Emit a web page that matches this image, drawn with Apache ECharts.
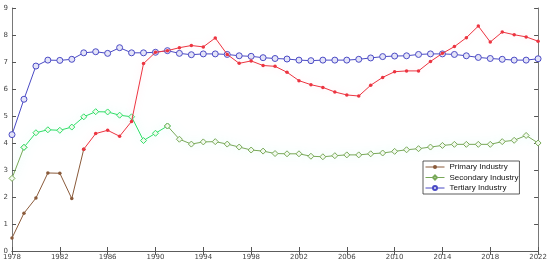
<!DOCTYPE html>
<html>
<head>
<meta charset="utf-8">
<script src="https://cdn.jsdelivr.net/npm/echarts@6/dist/echarts.min.js"></script>
<style>
  html, body { margin: 0; padding: 0; background: #fff; }
  #chart { width: 550px; height: 266px; }
</style>
</head>
<body>
<div id="chart"></div>
<script>
const years = [1978, 1979, 1980, 1981, 1982, 1983, 1984, 1985, 1986, 1987, 1988, 1989,
  1990, 1991, 1992, 1993, 1994, 1995, 1996, 1997, 1998, 1999, 2000, 2001, 2002, 2003,
  2004, 2005, 2006, 2007, 2008, 2009, 2010, 2011, 2012, 2013, 2014, 2015, 2016, 2017,
  2018, 2019, 2020, 2021, 2022]

const primary = [0.48, 1.40, 1.96, 2.89, 2.88, 1.94, 3.77, 4.35, 4.47, 4.25, 4.80, 6.94,
  7.36, 7.42, 7.53, 7.61, 7.56, 7.89, 7.28, 6.95, 7.04, 6.87, 6.84, 6.62, 6.31, 6.16,
  6.06, 5.89, 5.78, 5.74, 6.14, 6.43, 6.64, 6.67, 6.67, 7.02, 7.32, 7.57, 7.90, 8.33,
  7.74, 8.11, 8.01, 7.93, 7.77]

const secondary = [2.69, 3.84, 4.38, 4.49, 4.47, 4.59, 4.97, 5.16, 5.15, 5.03, 4.97, 4.09,
  4.36, 4.63, 4.14, 3.96, 4.04, 4.05, 3.96, 3.85, 3.74, 3.70, 3.61, 3.60, 3.60, 3.51,
  3.49, 3.53, 3.56, 3.56, 3.60, 3.63, 3.69, 3.75, 3.79, 3.85, 3.91, 3.95, 3.95, 3.95,
  3.95, 4.05, 4.10, 4.28, 4.00]

const tertiary = [4.31, 5.62, 6.85, 7.07, 7.06, 7.10, 7.34, 7.38, 7.32, 7.53, 7.34, 7.34,
  7.36, 7.42, 7.32, 7.27, 7.30, 7.30, 7.28, 7.23, 7.21, 7.16, 7.13, 7.11, 7.07, 7.05,
  7.07, 7.07, 7.07, 7.10, 7.15, 7.20, 7.22, 7.23, 7.28, 7.30, 7.30, 7.28, 7.23, 7.17,
  7.13, 7.10, 7.07, 7.07, 7.12]

const seriesNames = ['Primary Industry', 'Secondary Industry', 'Tertiary Industry']

// [year, value] pairs between two years (inclusive)
const pairs = (vals, from, to) => years
  .map((y, i) => [y, vals[i]])
  .filter(p => p[0] >= from && p[0] <= to)

const axisColor = '#555'
const font = 'DejaVu Sans'
const chart = echarts.init(document.getElementById('chart'))

function seg(name, vals, from, to, color, extra) {
  return Object.assign({
    name: name,
    type: 'line',
    data: pairs(vals, from, to),
    itemStyle: { color: color },
    lineStyle: { width: 1, color: color }
  }, extra)
}

const glow = c => ({ width: 1, color: c, shadowColor: 'rgba(140,240,215,0.6)', shadowBlur: 10 })

const primaryStyle = { symbol: 'circle', symbolSize: 3.5, z: 4 }
const diamond = c => ({
  symbol: 'diamond', symbolSize: 6, z: 3,
  itemStyle: { color: '#f2faee', borderColor: c, borderWidth: 1 },
  lineStyle: glow(c)
})

const option = {
  animation: false,
  grid: { left: 12, right: 11, top: 8, bottom: 15 },
  legend: {
    left: 423,
    top: 161,
    orient: 'vertical',
    itemWidth: 19,
    itemHeight: 5,
    itemGap: 2.5,
    padding: [2, 1, 2, 2],
    borderColor: '#333',
    borderWidth: 0.8,
    backgroundColor: '#fff',
    lineStyle: { width: 1 },
    textStyle: { fontSize: 8, color: '#111', fontFamily: 'Liberation Sans' },
    data: seriesNames
  },
  xAxis: [
    {
      type: 'value', min: 1978, max: 2022, interval: 4,
      axisLine: { lineStyle: { color: axisColor, width: 0.8 } },
      axisTick: { inside: true, length: 4, lineStyle: { color: axisColor } },
      axisLabel: { fontSize: 7, color: '#444', margin: 3, fontFamily: font, formatter: v => String(v) },
      splitLine: { show: false }
    },
    {
      type: 'value', position: 'top', min: 1978, max: 2022, interval: 4,
      axisLine: { show: true, lineStyle: { color: axisColor, width: 0.8 } },
      axisTick: { inside: true, length: 4, lineStyle: { color: axisColor } },
      axisLabel: { show: false },
      splitLine: { show: false }
    }
  ],
  yAxis: [
    {
      type: 'value', min: 0, max: 9, interval: 1,
      axisLine: { show: true, lineStyle: { color: axisColor, width: 0.8 } },
      axisTick: { show: true, inside: true, length: 4, lineStyle: { color: axisColor } },
      axisLabel: { fontSize: 7, color: '#444', margin: 4, fontFamily: font },
      splitLine: { show: false }
    },
    {
      type: 'value', position: 'right', min: 0, max: 9, interval: 1,
      axisLine: { show: true, lineStyle: { color: axisColor, width: 0.8 } },
      axisTick: { show: true, inside: true, length: 4, lineStyle: { color: axisColor } },
      axisLabel: { show: false },
      splitLine: { show: false }
    }
  ],
  series: [
    // first of each name sets the legend icon
    seg(seriesNames[0], primary, 1978, 1984, '#8a5a3a', primaryStyle),
    seg(seriesNames[1], secondary, 1978, 1979, '#78a858', diamond('#78a858')),
    seg(seriesNames[2], tertiary, 1978, 2022, '#4a4ac4', {
      symbol: 'circle', symbolSize: 6, z: 2,
      itemStyle: { color: '#e4e4f8', borderColor: '#4a4ac4', borderWidth: 1 }
    }),
    seg(seriesNames[0], primary, 1984, 2022, '#ec3440', Object.assign({
      lineStyle: { width: 1, color: '#ec3440', shadowColor: 'rgba(255,170,185,0.35)', shadowBlur: 6 }
    }, primaryStyle)),
    seg(seriesNames[1], secondary, 1979, 1991, '#2ede66', diamond('#2ede66')),
    seg(seriesNames[1], secondary, 1991, 2022, '#78a858', diamond('#78a858'))
  ]
}

chart.setOption(option)
</script>
</body>
</html>
